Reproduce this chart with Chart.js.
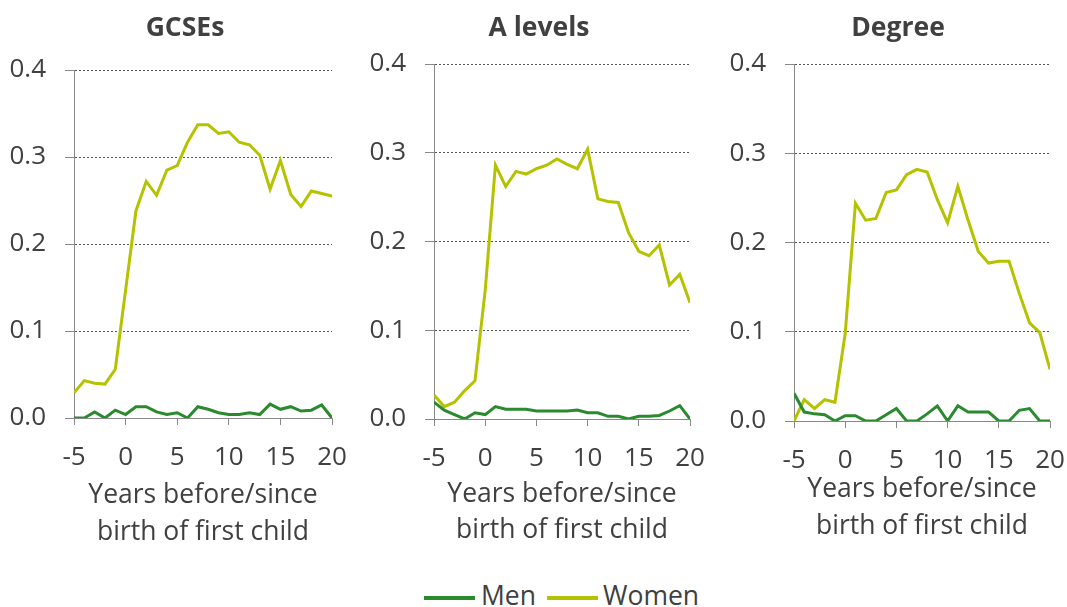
<!DOCTYPE html>
<html>
<head>
<meta charset="utf-8">
<script src="https://cdn.jsdelivr.net/npm/chart.js@4"></script>
<style>
  body { margin: 0; background: #fff; width: 1067px; height: 607px; overflow: hidden; position: relative; font-family: "Open Sans", sans-serif; }
  .panel { position: absolute; top: 0; }
  .ptitle { position: absolute; top: 10px; width: 200px; text-align: center; font-weight: bold; font-size: 26.5px; line-height: 32px; color: #404040; }
  #legend { position: absolute; left: 0; width: 1067px; top: 580px; height: 30px; color: #404040; font-size: 26.5px; }
  .item { position: absolute; top: 0; line-height: 30px; }
  .swatch { position: absolute; top: 16px; height: 4px; width: 51px; }
</style>
</head>
<body>
<div class="panel" id="p1" style="left:0px;width:350px;height:554px"><canvas id="c1"></canvas></div>
<div class="panel" id="p2" style="left:355px;width:355px;height:555px"><canvas id="c2"></canvas></div>
<div class="panel" id="p3" style="left:715px;width:352px;height:557px"><canvas id="c3"></canvas></div>
<div class="ptitle" style="left:85px">GCSEs</div>
<div class="ptitle" style="left:439px">A levels</div>
<div class="ptitle" style="left:798px">Degree</div>
<div id="legend">
  <div class="swatch" style="left:424px;background:#2a8a2e"></div>
  <div class="item" style="left:481px">Men</div>
  <div class="swatch" style="left:547px;background:#b5c200"></div>
  <div class="item" style="left:603px">Women</div>
</div>
<script>
// years before/since birth of first child
const years = [-5,-4,-3,-2,-1,0,1,2,3,4,5,6,7,8,9,10,11,12,13,14,15,16,17,18,19,20];

const gcseMen   = [0,0,0.007,0,0.009,0.004,0.013,0.013,0.007,0.004,0.006,0,0.013,0.010,0.006,0.004,0.004,0.006,0.004,0.016,0.010,0.013,0.008,0.009,0.015,0];
const gcseWomen = [0.029,0.043,0.040,0.039,0.056,0.147,0.238,0.272,0.256,0.285,0.290,0.317,0.337,0.337,0.327,0.329,0.317,0.314,0.302,0.263,0.296,0.257,0.243,0.261,0.258,0.255];

const alevelMen   = [0.019,0.010,0.005,0,0.007,0.005,0.014,0.011,0.011,0.011,0.009,0.009,0.009,0.009,0.010,0.007,0.007,0.003,0.003,0,0.003,0.003,0.004,0.009,0.015,0];
const alevelWomen = [0.027,0.014,0.019,0.032,0.043,0.145,0.286,0.262,0.279,0.276,0.282,0.286,0.293,0.287,0.282,0.304,0.248,0.245,0.244,0.210,0.189,0.184,0.196,0.151,0.163,0.131];

const degreeMen   = [0.031,0.010,0.008,0.007,0,0.006,0.006,0,0,0.007,0.014,0,0,0.008,0.017,0,0.017,0.010,0.010,0.010,0,0,0.012,0.014,0,0];
const degreeWomen = [0,0.024,0.014,0.024,0.021,0.098,0.244,0.225,0.227,0.256,0.259,0.276,0.282,0.279,0.248,0.222,0.263,0.225,0.190,0.177,0.179,0.179,0.143,0.110,0.099,0.058];

const xTitle = ['Years before/since', 'birth of first child'];
const menColor = '#2a8a2e';
const womenColor = '#b5c200';
const textColor = '#404040';
const fontFamily = '"Open Sans", sans-serif';

function points(vals) {
  return years.map((y, i) => ({ x: y, y: vals[i] }));
}

function makeChart(id, men, women, cfg) {
  const ctx = document.getElementById(id).getContext('2d');
  return new Chart(ctx, {
    type: 'line',
    data: {
      datasets: [
        { label: 'Men', data: points(men), borderColor: menColor, borderWidth: 3, pointRadius: 0, tension: 0, fill: false },
        { label: 'Women', data: points(women), borderColor: womenColor, borderWidth: 3, pointRadius: 0, tension: 0, fill: false }
      ]
    },
    options: {
      responsive: true,
      maintainAspectRatio: false,
      animation: false,
      layout: { padding: { left: 0, right: cfg.padRight, top: cfg.padTop, bottom: 0 } },
      plugins: {
        legend: { display: false },
        tooltip: { enabled: false }
      },
      scales: {
        x: {
          type: 'linear',
          min: -5,
          max: 20,
          ticks: { stepSize: 5, color: textColor, font: { family: fontFamily, size: 26 }, padding: 17, maxRotation: 0 },
          grid: { drawOnChartArea: false, drawTicks: true, tickLength: 7, tickColor: '#888888' },
          border: { display: true, color: '#888888', width: 1 },
          title: {
            display: true, text: xTitle, color: textColor,
            font: { family: fontFamily, size: 26.5, lineHeight: 1.36 },
            padding: { top: 0, bottom: cfg.xTitlePad }
          },
          afterFit: (scale) => { scale.height = 136; scale.paddingLeft = 0; scale.paddingRight = 0; }
        },
        y: {
          min: 0,
          max: 0.4,
          ticks: { stepSize: 0.1, color: textColor, font: { family: fontFamily, size: 26 }, padding: 19,
                   callback: (v) => v.toFixed(1) },
          grid: { color: '#555555', lineWidth: 1, drawTicks: true, tickLength: 9, tickColor: '#888888', tickBorderDash: [] },
          border: { display: true, color: '#888888', width: 1, dash: [2, 2] },
          afterFit: (scale) => { scale.width = cfg.yWidth; scale.paddingTop = 0; scale.paddingBottom = 0; }
        }
      }
    }
  });
}

makeChart('c1', gcseMen, gcseWomen, { yWidth: 74, padRight: 18, padTop: 70, xTitlePad: 4 });
makeChart('c2', alevelMen, alevelWomen, { yWidth: 79, padRight: 20, padTop: 64, xTitlePad: 6.5 });
makeChart('c3', degreeMen, degreeWomen, { yWidth: 79, padRight: 17, padTop: 64, xTitlePad: 13 });
</script>
</body>
</html>
